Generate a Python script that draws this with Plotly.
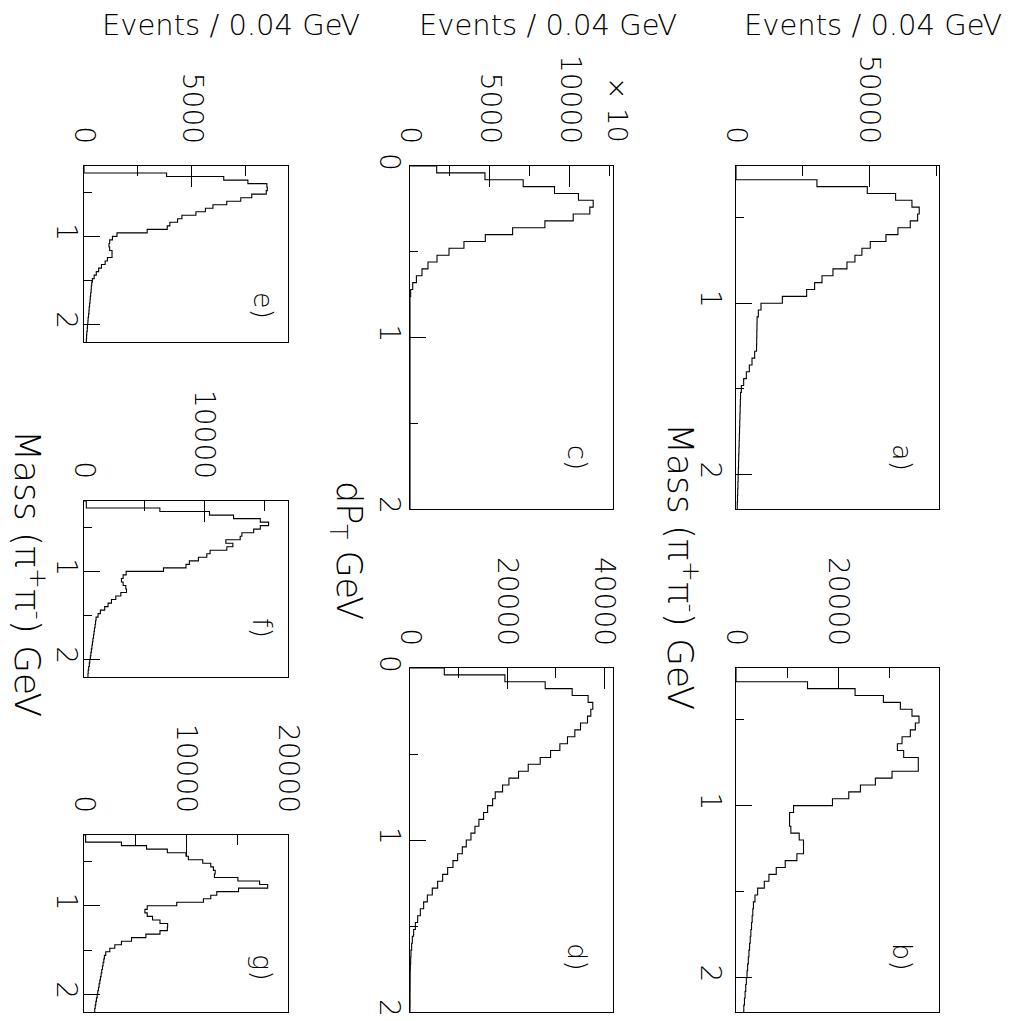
import plotly.graph_objects as go

# page is 1012x1021; the browser body adds an 8 px margin, so the figure is made 8 px smaller
PAGE_W, PAGE_H, OFF = 1012, 1021, 8
W, H = PAGE_W - OFF, PAGE_H - OFF

# ---------------- data (counts per 0.04 GeV bin) ----------------
bin_width = 0.04
mass_start = 0.2      # mass histograms: 0.2 .. 2.2 GeV, 50 bins
dpt_start = 0.0       # dPT histograms: 0 .. 2 GeV, 50 bins

counts_a = [0, 0, 30300, 49150, 59750, 65870, 68600, 68000, 65240, 60630,
            56140, 50270, 47150, 44530, 41540, 36300, 32190, 29440, 26450, 17340,
            9360, 8360, 7900, 7850, 7800, 7750, 7700, 6990, 5990, 4990,
            3870, 2870, 2000, 1700, 1620, 1550, 1480, 1400, 1330, 1250,
            1180, 1100, 1020, 950, 870, 800, 720, 640, 560, 480]

counts_b = [0, 0, 13950, 23230, 28750, 32060, 34330, 35700, 34980, 34010,
            32390, 31480, 32710, 35560, 35560, 30440, 27190, 24270, 22000, 18820,
            11230, 10450, 10450, 10700, 12330, 13170, 13170, 11880, 9600, 7850,
            6420, 5520, 4220, 3700, 3400, 3280, 3150, 3030, 2900, 2780,
            2650, 2520, 2400, 2270, 2150, 2020, 1900, 1770, 1650, 1520]

counts_c = [1670, 4690, 7080, 9040, 10540, 11460, 11250, 10210, 8440, 6420,
            4710, 3375, 2440, 1690, 1125, 750, 400, 170, 40, 0,
            0, 0, 0, 0, 0, 0, 0, 0, 0, 0,
            0, 0, 0, 0, 0, 0, 0, 0, 0, 0,
            0, 0, 0, 0, 0, 0, 0, 0, 0, 0]

counts_d = [7060, 19540, 27840, 33390, 36680, 37640, 37230, 36550, 35110, 33940,
            32430, 30860, 28940, 26810, 24340, 22350, 20370, 19060, 17550, 17010,
            15980, 15150, 14190, 13370, 12550, 11590, 10770, 9810, 8850, 7750,
            6720, 5690, 4590, 3570, 2810, 2130, 1580, 1100, 750, 480,
            340, 200, 140, 70, 40, 30, 20, 10, 10, 0]

counts_e = [0, 0, 3830, 6480, 7600, 8480, 8500, 8450, 7780, 7270,
            6620, 5980, 5630, 5190, 4540, 4340, 3980, 3860, 2930, 1530,
            1320, 1190, 1160, 1190, 1300, 1300, 1085, 980, 810, 680,
            570, 470, 390, 360, 340, 330, 310, 290, 280, 260,
            240, 230, 210, 190, 180, 160, 150, 130, 120, 110]

counts_f = [190, 190, 6300, 10420, 12420, 14640, 15330, 14640, 14090, 13110,
            12970, 11780, 12360, 11860, 10470, 10200, 9500, 8750, 8470, 6600,
            3500, 3250, 3110, 3250, 3470, 3530, 3060, 2640, 2280, 2000,
            1720, 1360, 1170, 1000, 960, 920, 870, 830, 790, 740,
            700, 660, 610, 570, 530, 480, 440, 390, 350, 330]

counts_g = [160, 160, 3670, 6130, 8170, 10000, 10230, 11640, 12430, 12690,
            12860, 12790, 15090, 17220, 18010, 15150, 13020, 12430, 11710, 9090,
            6200, 5970, 6200, 6720, 7450, 8200, 8170, 7450, 6070, 4660,
            3670, 3020, 2530, 2130, 2000, 1940, 1870, 1810, 1740, 1680,
            1610, 1550, 1480, 1420, 1350, 1290, 1220, 1160, 1100, 1050]

panel_letters = ["a)", "b)", "c)", "d)", "e)", "f)", "g)"]
events_title = "Events / 0.04 GeV"
mass_title = "Mass (&#960;<sup>+</sup>&#960;<sup>-</sup>) GeV"
dpt_title = "dP<sub>T</sub> GeV"
scale_note = "\u00d7 10"


def px(x):
    return (x - OFF) / W


def py(y):
    return 1 - (y - OFF) / H


# ---------------- layout of panels (page-pixel boxes) ----------------
FONT = "DejaVu Sans"
panels = [
    dict(c=counts_a, s=mass_start, xmax=76000, dt=50000, mdt=25000, box=(736, 939, 166, 509), lp=(903, 457), so=0),
    dict(c=counts_b, s=mass_start, xmax=39600, dt=20000, mdt=10000, box=(736, 939, 668, 1012), lp=(903, 957), so=0),
    dict(c=counts_c, s=dpt_start, xmax=12700, dt=5000, mdt=2500, box=(410, 613, 166, 509), lp=(578, 457), so=-5),
    dict(c=counts_d, s=dpt_start, xmax=41800, dt=20000, mdt=10000, box=(410, 613, 668, 1012), lp=(578, 957), so=-5),
    dict(c=counts_e, s=mass_start, xmax=9460, dt=5000, mdt=2500, box=(84, 288, 166, 342), lp=(263, 305), so=-8),
    dict(c=counts_f, s=mass_start, xmax=16940, dt=10000, mdt=5000, box=(84, 288, 501, 677), lp=(263, 628), so=-8),
    dict(c=counts_g, s=mass_start, xmax=20000, dt=10000, mdt=5000, box=(84, 288, 835, 1012), lp=(263, 967), so=-8),
]

fig = go.Figure()
annotations = []

for k, p in enumerate(panels):
    n = len(p["c"])
    edges = [round(p["s"] + bin_width * i, 4) for i in range(n + 1)]
    xs = [0] + list(p["c"]) + [p["c"][-1]]
    ys = [edges[0]] + edges[:n] + [edges[n]]
    xa = "x" if k == 0 else f"x{k+1}"
    ya = "y" if k == 0 else f"y{k+1}"
    fig.add_trace(go.Scatter(x=xs, y=ys, mode="lines", line=dict(color="black", width=1.1, shape="vh"),
                             xaxis=xa, yaxis=ya, showlegend=False, hoverinfo="skip"))
    x0, x1, y0, y1 = p["box"]
    xkey = "xaxis" if k == 0 else f"xaxis{k+1}"
    ykey = "yaxis" if k == 0 else f"yaxis{k+1}"
    fig.layout[xkey] = dict(
        domain=[px(x0), px(x1)], anchor=ya, side="top", range=[0, p["xmax"]], automargin=False,
        showline=True, mirror=True, linecolor="black", linewidth=1.3,
        ticks="inside", ticklen=21, tickwidth=1.2, tickcolor="black",
        tick0=0, dtick=p["dt"], tickformat="d", tickangle=90,
        tickfont=dict(family=FONT, size=28, color="black", weight=200),
        ticklabelstandoff=11,
        minor=dict(ticks="inside", ticklen=10, dtick=p["mdt"], tick0=0, tickwidth=1, tickcolor="black", showgrid=False),
        showgrid=False, zeroline=False, fixedrange=True,
    )
    fig.layout[ykey] = dict(
        domain=[py(y1), py(y0)], anchor=xa, range=[p["s"] + bin_width * n, p["s"]], automargin=False,
        showline=True, mirror=True, linecolor="black", linewidth=1.3,
        ticks="inside", ticklen=16, tickwidth=1.2, tickcolor="black",
        tick0=0, dtick=1, tickangle=90,
        tickfont=dict(family=FONT, size=28, color="black", weight=200),
        ticklabelstandoff=p["so"],
        minor=dict(ticks="inside", ticklen=8, dtick=0.5, tick0=0, tickwidth=1, tickcolor="black", showgrid=False),
        showgrid=False, zeroline=False, fixedrange=True,
    )
    lx, ly = p["lp"]
    annotations.append(dict(text=panel_letters[k], x=px(lx), y=py(ly), xref="paper", yref="paper",
                            xanchor="center", yanchor="middle", borderpad=0,
                            showarrow=False, textangle=90, font=dict(family=FONT, size=27, color="black", weight=200)))

# titles
for cx in (873, 548, 231):
    annotations.append(dict(text=events_title, x=px(cx), y=py(25), xref="paper", yref="paper",
                            xanchor="center", yanchor="middle", borderpad=0,
                            showarrow=False, font=dict(family=FONT, size=29, color="black", weight=200)))
for (cx, cy) in ((683, 566), (30, 573)):
    annotations.append(dict(text=mass_title, x=px(cx), y=py(cy), xref="paper", yref="paper",
                            xanchor="center", yanchor="middle", borderpad=0,
                            showarrow=False, textangle=90, font=dict(family=FONT, size=36, color="black", weight=200)))
annotations.append(dict(text=dpt_title, x=px(347), y=py(550), xref="paper", yref="paper",
                        xanchor="center", yanchor="middle", borderpad=0,
                        showarrow=False, textangle=90, font=dict(family=FONT, size=35, color="black", weight=200)))
annotations.append(dict(text=scale_note, x=px(617), y=py(110), xref="paper", yref="paper",
                        xanchor="center", yanchor="middle", borderpad=0,
                        showarrow=False, textangle=90, font=dict(family=FONT, size=27, color="black", weight=200)))

fig.update_layout(template="none", width=W, height=H, margin=dict(l=0, r=0, t=0, b=0, pad=0),
                  paper_bgcolor="white", plot_bgcolor="white", annotations=annotations)

fig.write_html("out.html")
